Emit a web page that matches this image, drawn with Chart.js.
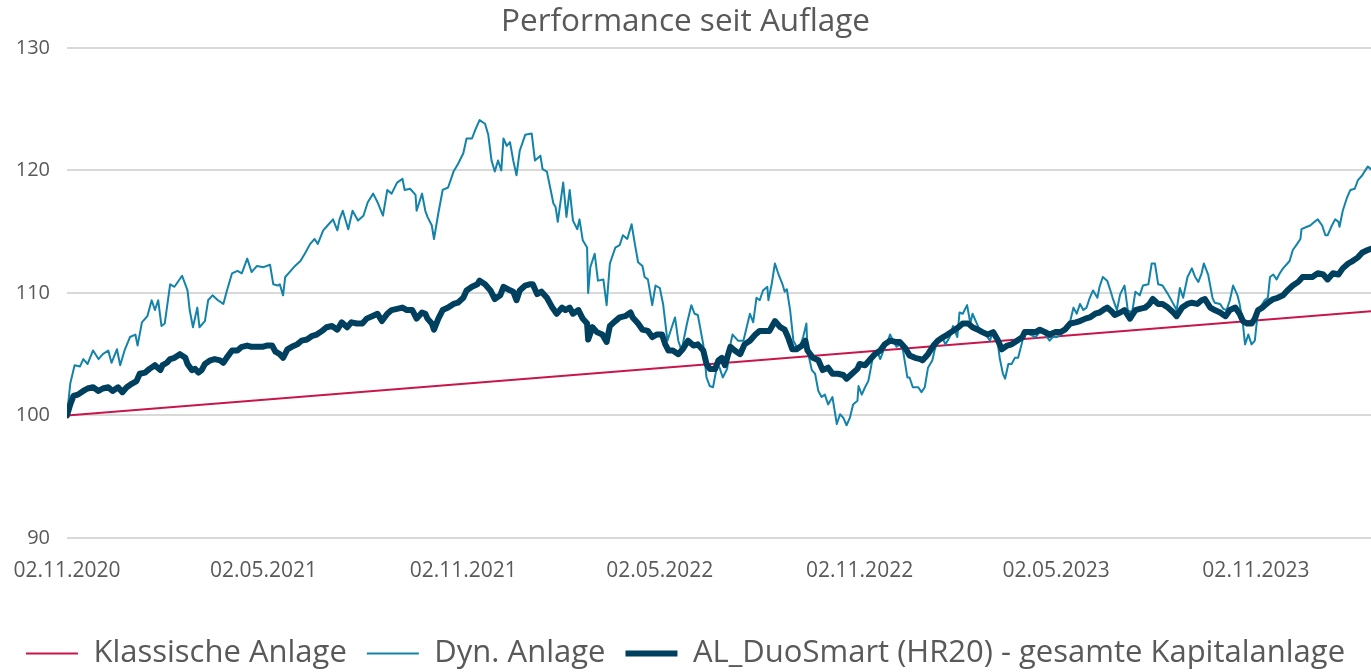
<!DOCTYPE html>
<html>
<head>
<meta charset="utf-8">
<script src="https://cdn.jsdelivr.net/npm/chart.js@4"></script>
<style>
  html, body { margin: 0; padding: 0; background: #fff; }
  #wrap { width: 1371px; height: 672px; }
</style>
</head>
<body>
<div id="wrap"><canvas id="chart"></canvas></div>
<script>
// Tage seit Auflage (02.11.2020)
const tickLabels = ['02.11.2020', '02.05.2021', '02.11.2021', '02.05.2022', '02.11.2022', '02.05.2023', '02.11.2023'];
const seriesNames = ['Klassische Anlage', 'Dyn. Anlage', 'AL_DuoSmart (HR20) - gesamte Kapitalanlage'];

const klassDays = [0, 1201];
const klassVals = [100, 108.5];

const dynDays = [0, 3, 7, 12, 15, 19, 24, 29, 33, 38, 41, 46, 49, 53, 58, 63, 65, 69, 74, 78, 81, 84, 87, 90, 95, 99, 106, 111, 113, 116, 120, 122, 127, 130, 134, 139, 144, 147, 152, 157, 161, 166, 170, 175, 181, 187, 190, 194, 196, 199, 201, 205, 210, 215, 219, 224, 228, 231, 236, 240, 245, 249, 251, 254, 259, 263, 268, 273, 277, 282, 286, 291, 295, 299, 304, 309, 311, 316, 321, 322, 327, 330, 332, 336, 338, 342, 346, 351, 356, 360, 365, 368, 373, 376, 380, 385, 388, 391, 394, 397, 400, 402, 405, 408, 411, 414, 417, 422, 428, 431, 436, 438, 442, 445, 448, 450, 452, 457, 460, 463, 466, 470, 472, 475, 479, 480, 482, 486, 489, 494, 497, 500, 505, 509, 512, 516, 520, 523, 526, 530, 532, 535, 539, 542, 546, 549, 553, 557, 560, 563, 566, 571, 575, 578, 581, 586, 589, 592, 595, 599, 601, 604, 608, 611, 613, 618, 623, 626, 629, 632, 635, 638, 641, 645, 646, 649, 652, 655, 659, 661, 663, 666, 669, 672, 675, 678, 681, 682, 686, 689, 692, 695, 698, 701, 705, 707, 709, 712, 715, 718, 721, 724, 728, 729, 732, 735, 738, 740, 742, 746, 749, 752, 755, 758, 761, 764, 767, 770, 774, 776, 779, 784, 787, 790, 793, 797, 799, 802, 806, 809, 813, 816, 820, 822, 825, 829, 832, 834, 838, 841, 845, 850, 853, 857, 859, 862, 864, 867, 870, 873, 876, 880, 882, 887, 892, 896, 901, 905, 908, 912, 915, 919, 924, 927, 930, 933, 936, 939, 942, 945, 949, 951, 954, 958, 961, 963, 967, 970, 974, 977, 981, 984, 988, 991, 996, 999, 1002, 1005, 1009, 1014, 1019, 1022, 1025, 1028, 1032, 1036, 1039, 1042, 1045, 1047, 1051, 1055, 1057, 1062, 1065, 1068, 1071, 1074, 1078, 1080, 1083, 1085, 1088, 1091, 1094, 1097, 1101, 1103, 1106, 1108, 1111, 1114, 1117, 1120, 1124, 1126, 1129, 1133, 1136, 1137, 1142, 1145, 1149, 1152, 1156, 1159, 1161, 1165, 1168, 1171, 1172, 1175, 1179, 1182, 1186, 1189, 1193, 1195, 1198, 1201];
const dynVals = [100, 102.6, 104.1, 104, 104.6, 104.2, 105.3, 104.6, 105, 105.3, 104.3, 105.4, 104.1, 105.3, 106.4, 106.6, 105.7, 107.6, 108.1, 109.4, 108.6, 109.4, 107.3, 107.5, 110.7, 110.5, 111.4, 110.2, 108.6, 107.2, 108.8, 107.2, 107.7, 109.4, 109.8, 109.4, 109.1, 110.1, 111.6, 111.8, 111.6, 112.8, 111.7, 112.2, 112.1, 112.3, 110.7, 110.6, 110.7, 109.8, 111.3, 111.7, 112.2, 112.6, 113.2, 114, 114.4, 114, 115.1, 115.5, 116, 115.1, 116, 116.7, 115.2, 116.7, 115.9, 116.3, 117.4, 118.1, 117.4, 116.3, 118.4, 118.1, 119, 119.3, 118.4, 118.5, 118, 116.7, 118.1, 116.7, 116.2, 115.5, 114.4, 116.5, 118.4, 118.6, 119.9, 120.5, 121.4, 122.6, 122.6, 123.3, 124.1, 123.8, 122.9, 120.8, 119.9, 120.8, 120, 122.6, 122, 122.3, 120.8, 119.6, 121.6, 122.9, 123, 120.8, 121.2, 120.1, 119.9, 118.6, 117.3, 117, 115.8, 119, 116.2, 118.4, 115.9, 115.2, 116, 114.3, 113.7, 110, 112.1, 113.2, 111, 111.1, 109, 112.4, 113.7, 113.9, 114.7, 114.4, 115.6, 114, 112.5, 112.2, 111.3, 111.1, 109, 110.6, 110.4, 109.1, 106.1, 107.2, 108, 106.1, 105.3, 107.5, 109, 108.3, 108.2, 105.8, 103.1, 102.4, 102.3, 104.2, 103.9, 103.1, 103.8, 105.8, 106.6, 106.1, 106.1, 107.2, 108.3, 107.6, 109.6, 109.4, 110.2, 110.5, 109.4, 110.7, 112.4, 111.6, 110.7, 110.1, 110.3, 108.6, 106.1, 105.6, 105.6, 106.4, 107.5, 105.3, 103.7, 103.4, 102, 101.5, 101.7, 100.9, 101.5, 100.4, 99.3, 100.1, 99.8, 99.2, 99.8, 100.9, 101.2, 102.4, 101.7, 102.3, 102.8, 103.7, 104.7, 105.3, 104.6, 105.3, 105.8, 106.6, 106.1, 105.6, 105.8, 105.3, 103.1, 103.1, 102.3, 102.3, 101.9, 102.3, 103.9, 104.5, 105.3, 106.1, 106.4, 105.8, 106.4, 107.3, 106.4, 108.4, 108.3, 109, 107.5, 108.3, 107.5, 106.9, 106.8, 106.1, 106.9, 106.1, 104.7, 103.4, 103, 104.2, 104.2, 104.7, 104.7, 106.1, 106.8, 106.6, 106.4, 106.8, 106.6, 106.1, 106.4, 106.4, 106.6, 107.2, 107.7, 108.8, 108.3, 109.1, 108.6, 108.8, 109.6, 110.2, 109.6, 110.5, 111.3, 111, 110.2, 109.6, 108.6, 109.9, 110.6, 108.6, 108.4, 110.1, 109.8, 110.6, 110.7, 112.4, 112.4, 110.7, 110.6, 109.9, 109.1, 108.6, 110.4, 109.6, 111.3, 112, 111.3, 110.9, 111.6, 112.4, 111.5, 109.6, 109.2, 109.1, 108.7, 108.6, 109.4, 110.6, 109.8, 109.1, 107.5, 105.8, 106.6, 105.8, 106.1, 108.6, 109.1, 109.4, 109.6, 111.3, 111.5, 111.1, 111.6, 112, 112.4, 112.6, 113.5, 114, 114.4, 115.2, 115.4, 115.5, 115.8, 116, 115.5, 114.7, 114.7, 115.5, 116, 115.8, 115.4, 116.7, 117.8, 118.4, 118.5, 119.2, 119.6, 119.9, 120.3, 120.1];

const duoDays = [0, 3, 6, 10, 15, 19, 24, 29, 33, 38, 42, 47, 51, 55, 60, 64, 67, 72, 76, 81, 86, 88, 92, 95, 99, 104, 109, 111, 115, 118, 121, 124, 127, 132, 136, 141, 144, 147, 152, 157, 161, 166, 170, 175, 180, 184, 189, 192, 196, 199, 203, 207, 212, 216, 221, 226, 230, 235, 239, 244, 249, 253, 258, 262, 267, 272, 276, 281, 286, 290, 295, 299, 304, 309, 313, 318, 322, 327, 330, 332, 336, 338, 342, 346, 351, 356, 360, 365, 368, 373, 378, 380, 385, 390, 394, 399, 402, 406, 411, 414, 417, 422, 426, 429, 433, 437, 442, 447, 451, 456, 459, 463, 466, 471, 475, 479, 480, 484, 488, 493, 497, 500, 505, 509, 514, 519, 521, 526, 530, 535, 539, 543, 548, 551, 554, 558, 563, 567, 572, 577, 581, 586, 589, 592, 597, 600, 603, 606, 611, 615, 620, 624, 629, 634, 638, 643, 647, 652, 657, 661, 664, 668, 672, 677, 680, 682, 687, 692, 696, 701, 705, 710, 715, 718, 723, 728, 730, 735, 740, 744, 749, 753, 758, 763, 767, 772, 776, 781, 786, 788, 793, 798, 802, 807, 811, 816, 821, 825, 830, 834, 839, 843, 848, 853, 857, 861, 866, 870, 875, 880, 882, 887, 892, 896, 901, 905, 910, 915, 919, 924, 929, 933, 938, 942, 947, 951, 956, 958, 962, 965, 970, 974, 979, 984, 988, 993, 997, 1000, 1005, 1009, 1014, 1019, 1022, 1027, 1032, 1036, 1041, 1045, 1048, 1053, 1057, 1062, 1067, 1071, 1076, 1080, 1083, 1087, 1091, 1094, 1097, 1101, 1106, 1111, 1115, 1120, 1124, 1129, 1134, 1138, 1143, 1147, 1152, 1157, 1161, 1166, 1171, 1175, 1180, 1184, 1189, 1193, 1198, 1201];
const duoVals = [100, 100.9, 101.6, 101.7, 102, 102.2, 102.3, 102, 102.2, 102.3, 102, 102.3, 101.9, 102.3, 102.6, 102.8, 103.4, 103.5, 103.8, 104.1, 103.7, 104.1, 104.3, 104.6, 104.7, 105, 104.7, 104.2, 103.7, 103.8, 103.5, 103.7, 104.2, 104.5, 104.6, 104.5, 104.3, 104.7, 105.3, 105.3, 105.6, 105.7, 105.6, 105.6, 105.6, 105.7, 105.7, 105.2, 105, 104.7, 105.4, 105.6, 105.8, 106.1, 106.2, 106.5, 106.6, 106.9, 107.2, 107.3, 107, 107.6, 107.2, 107.6, 107.5, 107.5, 107.9, 108.1, 108.3, 107.7, 108.3, 108.6, 108.7, 108.8, 108.6, 108.6, 107.9, 108.4, 108.3, 107.9, 107.5, 107, 107.9, 108.6, 108.8, 109.1, 109.2, 109.6, 110.2, 110.5, 110.7, 111, 110.7, 110.2, 109.5, 109.8, 110.5, 110.3, 110.1, 109.4, 110.2, 110.6, 110.7, 110.7, 109.9, 110.1, 109.6, 108.8, 108.3, 108.8, 108.6, 108.8, 108.3, 108.6, 107.9, 107.5, 106.2, 107.2, 106.8, 106.6, 106, 107.3, 107.7, 108, 108.1, 108.4, 108, 107.5, 107, 106.9, 106.4, 106.6, 106.6, 105.8, 105.3, 105.3, 105, 105.4, 106.1, 105.7, 105.8, 105.3, 104.2, 103.8, 103.8, 104.5, 104.7, 104.1, 105.6, 105.3, 105, 105.8, 106.1, 106.6, 106.9, 106.9, 106.9, 107.7, 107.2, 107, 106.4, 105.4, 105.4, 105.7, 106.1, 105.3, 104.7, 104.5, 103.7, 103.9, 103.4, 103.4, 103.3, 103, 103.4, 103.8, 104.2, 104.1, 104.6, 105, 105.3, 105.8, 106.1, 106, 106, 105.5, 104.9, 104.7, 104.6, 104.5, 105, 105.7, 106.1, 106.4, 106.6, 106.9, 107.2, 107.5, 107.5, 107.2, 107, 106.8, 106.6, 106.8, 106.2, 105.4, 105.7, 105.8, 106.1, 106.4, 106.8, 106.8, 106.8, 107, 106.8, 106.6, 106.8, 106.8, 107, 107.5, 107.6, 107.7, 107.9, 108, 108.3, 108.4, 108.7, 108.8, 108.5, 108.2, 108.4, 108.6, 107.9, 108.6, 108.7, 108.8, 109.1, 109.5, 109.1, 109.1, 108.8, 108.4, 108.1, 108.8, 109.1, 109.2, 109.1, 109.4, 109.5, 108.8, 108.6, 108.4, 108.1, 108.6, 108.8, 108.3, 107.7, 107.5, 107.5, 107.9, 108.6, 108.8, 109.2, 109.5, 109.6, 109.8, 110.2, 110.6, 110.9, 111.3, 111.3, 111.3, 111.6, 111.5, 111.1, 111.6, 111.5, 112, 112.4, 112.6, 112.9, 113.3, 113.5, 113.6];

const textColor = '#595959';
const fontFamily = '"Open Sans", "Noto Sans", sans-serif';

function toPoints(days, vals) {
    return days.map((d, i) => ({ x: d, y: vals[i] }));
}

// Tick-Positionen aus den Datumslabels
function dayOffset(label) {
    const [d, m, y] = label.split('.').map(Number);
    const [d0, m0, y0] = tickLabels[0].split('.').map(Number);
    return Math.round((Date.UTC(y, m - 1, d) - Date.UTC(y0, m0 - 1, d0)) / 86400000);
}
const tickDays = tickLabels.map(dayOffset);

const ctx = document.getElementById('chart');
new Chart(ctx, {
    type: 'line',
    data: {
        datasets: [
            {
                label: seriesNames[0],
                data: toPoints(klassDays, klassVals),
                borderColor: '#c9164a',
                borderWidth: 2,
                order: 3
            },
            {
                label: seriesNames[1],
                data: toPoints(dynDays, dynVals),
                borderColor: '#1383a9',
                borderWidth: 2,
                order: 2
            },
            {
                label: seriesNames[2],
                data: toPoints(duoDays, duoVals),
                borderColor: '#00405f',
                borderWidth: 6,
                order: 1
            }
        ]
    },
    options: {
        responsive: true,
        maintainAspectRatio: false,
        animation: false,
        elements: {
            point: { radius: 0 },
            line: { tension: 0, borderCapStyle: 'round', borderJoinStyle: 'round' }
        },
        layout: { padding: { left: 0, right: 0, top: 0, bottom: -7 } },
        scales: {
            x: {
                type: 'linear',
                min: 0,
                max: dynDays[dynDays.length - 1],
                grid: { display: false },
                border: { display: false },
                afterBuildTicks: (scale) => {
                    scale.ticks = tickDays.map(v => ({ value: v }));
                },
                afterFit: (scale) => { scale.height = 80; },
                ticks: {
                    autoSkip: false,
                    maxRotation: 0,
                    padding: 12,
                    color: textColor,
                    font: { family: fontFamily, size: 21 },
                    callback: (v) => tickLabels[tickDays.indexOf(v)]
                }
            },
            y: {
                min: 90,
                max: 130,
                grid: { color: '#d9d9d9', lineWidth: 2, drawTicks: false },
                border: { display: false },
                afterFit: (scale) => { scale.width = 67; },
                ticks: {
                    stepSize: 10,
                    padding: 17,
                    color: textColor,
                    font: { family: fontFamily, size: 20 }
                }
            }
        },
        plugins: {
            title: {
                display: true,
                text: 'Performance seit Auflage',
                color: textColor,
                font: { family: fontFamily, size: 31.5, weight: 'normal' },
                padding: { top: 3, bottom: 7 }
            },
            legend: {
                position: 'bottom',
                labels: {
                    usePointStyle: true,
                    pointStyle: 'line',
                    pointStyleWidth: 52,
                    padding: 20,
                    color: textColor,
                    font: { family: fontFamily, size: 31 },
                    sort: (a, b) => a.datasetIndex - b.datasetIndex
                }
            },
            tooltip: { enabled: false }
        }
    }
});
</script>
</body>
</html>
